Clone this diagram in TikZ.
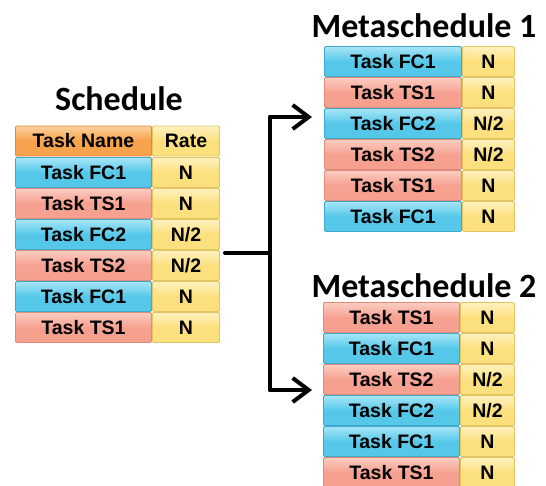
\documentclass[tikz,border=0pt]{standalone}
\usepackage{fontspec}
\setmainfont{Liberation Sans}
\newfontfamily\titlefont{Carlito}
\usetikzlibrary{arrows.meta}
\definecolor{cblue}{HTML}{55C8EA}
\definecolor{cblueT}{HTML}{A8E6F7}
\definecolor{cblueD}{HTML}{3FA9C9}
\definecolor{cpink}{HTML}{F6A190}
\definecolor{cpinkT}{HTML}{FBCDC2}
\definecolor{cpinkD}{HTML}{E08A7A}
\definecolor{cyel}{HTML}{FCE07E}
\definecolor{cyelT}{HTML}{FEF1BF}
\definecolor{cyelD}{HTML}{E2C460}
\definecolor{corg}{HTML}{F7A24C}
\definecolor{corgT}{HTML}{FCD29E}
\definecolor{corgD}{HTML}{DC8A3A}
\tikzset{
  cell/.style={rectangle, rounded corners=1.2pt, inner sep=0pt, line width=0.8pt,
    font=\fontsize{19.5}{21}\selectfont\bfseries, text=black},
  bluecell/.style={cell, draw=cblueD, top color=cblueT, bottom color=cblue, middle color=cblue},
  pinkcell/.style={cell, draw=cpinkD, top color=cpinkT, bottom color=cpink, middle color=cpink},
  yelcell/.style={cell, draw=cyelD, top color=cyelT, bottom color=cyel, middle color=cyel},
  orgcell/.style={cell, draw=corgD, top color=corgT, bottom color=corg, middle color=corg},
  title/.style={font=\titlefont\fontsize{34}{36}\selectfont\bfseries, anchor=base, inner sep=0pt},
  conn/.style={line width=4pt, line cap=round, line join=miter},
  arr/.style={conn, -{Straight Barb[length=16pt,width=24pt,line width=4pt]}}
}
% #1 name, #2 x left, #3 x mid, #4 x right, #5 y top, #6 style, #7 text, #8 rate
\newcommand{\trow}[8]{%
  \path let \n1={#5+15.5} in
    node[#6, minimum width={(#3-#2-1)*1pt}, minimum height=30pt] (#1n) at ({(#2+#3)/2}, \n1) {#7}
    node[yelcell, minimum width={(#4-#3-1)*1pt}, minimum height=30pt] (#1r) at ({(#3+#4)/2}, \n1) {#8};%
}
\usetikzlibrary{calc}
\begin{document}
\begin{tikzpicture}[x=1pt,y=-1pt]
\useasboundingbox[fill=white] (0,0) rectangle (546,485);
% titles
\node[title] (tS) at (119,110) {Schedule};
\node[title] (tM1) at (424,37) {Metaschedule 1};
\node[title] (tM2) at (424,297) {Metaschedule 2};
% schedule
\path node[orgcell, minimum width=136pt, minimum height=30pt] (sh) at (83.5,141) {Task Name}
      node[yelcell, minimum width=67pt, minimum height=30pt] (shr) at (186,141) {Rate};
\trow{sa}{15}{152}{220}{157}{bluecell}{Task FC1}{N}
\trow{sb}{15}{152}{220}{188}{pinkcell}{Task TS1}{N}
\trow{sc}{15}{152}{220}{219}{bluecell}{Task FC2}{N/2}
\trow{sd}{15}{152}{220}{250}{pinkcell}{Task TS2}{N/2}
\trow{se}{15}{152}{220}{281}{bluecell}{Task FC1}{N}
\trow{sf}{15}{152}{220}{312}{pinkcell}{Task TS1}{N}
% metaschedule 1
\trow{ma}{324}{462}{515}{46}{bluecell}{Task FC1}{N}
\trow{mb}{324}{462}{515}{77}{pinkcell}{Task TS1}{N}
\trow{mc}{324}{462}{515}{108}{bluecell}{Task FC2}{N/2}
\trow{md}{324}{462}{515}{139}{pinkcell}{Task TS2}{N/2}
\trow{me}{324}{462}{515}{170}{pinkcell}{Task TS1}{N}
\trow{mf}{324}{462}{515}{201}{bluecell}{Task FC1}{N}
% metaschedule 2
\trow{na}{323}{460}{515}{302}{pinkcell}{Task TS1}{N}
\trow{nb}{323}{460}{515}{333}{bluecell}{Task FC1}{N}
\trow{nc}{323}{460}{515}{364}{pinkcell}{Task TS2}{N/2}
\trow{nd}{323}{460}{515}{395}{bluecell}{Task FC2}{N/2}
\trow{ne}{323}{460}{515}{426}{bluecell}{Task FC1}{N}
\trow{nf}{323}{460}{515}{457}{pinkcell}{Task TS1}{N}
% connectors
\coordinate (start) at (225,253);
\coordinate (junc) at (270,253);
\coordinate (top) at (270,117);
\coordinate (bot) at (270,390);
\coordinate (end1) at (312,117);
\coordinate (end2) at (312,390);
\draw[conn] (start) -- (junc);
\draw[conn] (top) -- (bot);
\draw[arr] (top) -- (end1);
\draw[arr] (bot) -- (end2);
\end{tikzpicture}
\end{document}
